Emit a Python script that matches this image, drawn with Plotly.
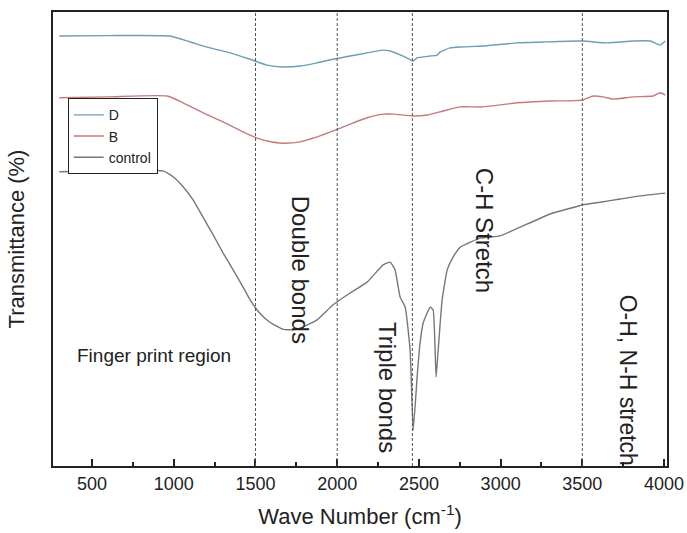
import plotly.graph_objects as go

# FTIR spectra (wavenumber in cm^-1, transmittance in arbitrary % units)
wn_d = [300, 600, 977, 1100, 1222, 1345, 1467, 1571, 1669, 1773, 1877, 1975,
        2079, 2183, 2281, 2324, 2403, 2465, 2489, 2569, 2611, 2630, 2691, 2752,
        2893, 3101, 3260, 3500, 3652, 3811, 3915, 3976, 4007]
t_d = [94.7, 94.8, 94.7, 93.4, 92.1, 91.0, 89.6, 88.3, 87.9, 88.1, 88.8, 89.6,
       90.3, 91.0, 91.6, 91.4, 90.3, 89.2, 89.9, 90.3, 90.5, 91.2, 92.1, 92.3,
       92.5, 93.2, 93.4, 93.6, 93.2, 93.6, 93.6, 92.7, 93.6]

wn_b = [300, 600, 959, 1057, 1179, 1302, 1424, 1510, 1571, 1669, 1773, 1877,
        1975, 2079, 2183, 2281, 2342, 2465, 2550, 2648, 2752, 2893, 3101, 3303,
        3500, 3566, 3627, 3688, 3811, 3933, 3976, 4007]
t_b = [81.1, 81.3, 81.5, 80.0, 77.8, 75.8, 73.6, 72.2, 71.6, 71.1, 71.4, 72.5,
       73.8, 75.3, 76.7, 77.5, 77.5, 77.1, 77.3, 78.2, 79.1, 79.1, 80.0, 80.4,
       80.6, 81.5, 81.3, 80.8, 81.3, 81.5, 82.2, 81.7]

wn_c = [300, 600, 935, 996, 1057, 1118, 1179, 1241, 1302, 1363, 1424, 1467,
        1528, 1590, 1669, 1730, 1790, 1877, 1975, 2079, 2183, 2281, 2324, 2354,
        2385, 2416, 2446, 2465, 2489, 2507, 2526, 2569, 2587, 2605, 2618, 2642,
        2673, 2709, 2752, 2875, 2997, 3119, 3303, 3500, 3609, 3731, 3854, 4007]
t_c = [64.8, 65.1, 65.0, 63.7, 61.5, 58.6, 54.8, 50.9, 46.9, 43.2, 39.4, 36.6,
       33.6, 31.6, 30.1, 30.0, 30.6, 32.2, 35.5, 38.1, 40.5, 44.3, 44.9, 43.2,
       37.2, 35.0, 25.6, 7.9, 19.6, 27.1, 31.5, 35.0, 34.4, 19.6, 25.6, 36.6,
       43.2, 46.0, 48.2, 50.2, 50.7, 52.6, 55.5, 57.5, 58.1, 58.8, 59.5, 60.1]

region_edges = [1500, 2000, 2460, 3500]
x_ticks = [500, 1000, 1500, 2000, 2500, 3000, 3500, 4000]

# (text, wavenumber, transmittance, font size)
labels_vertical = [
    ("Double bonds", 1773, 43.2, 24),
    ("Triple bonds", 2311, 17.4, 24),
    ("C-H Stretch", 2899, 52.0, 24),
    ("O-H, N-H stretch", 3780, 19.0, 23),
]
label_fingerprint = ("Finger print region", 880, 24.4, 19)

FONT = "Arial, Liberation Sans, sans-serif"
INK = "#222222"

fig = go.Figure()
fig.add_trace(go.Scatter(x=wn_d, y=t_d, name="D", mode="lines",
                         line=dict(color="#6a9fb6", width=1.4, shape="spline", smoothing=0.5)))
fig.add_trace(go.Scatter(x=wn_b, y=t_b, name="B", mode="lines",
                         line=dict(color="#c47b7b", width=1.4, shape="spline", smoothing=0.5)))
fig.add_trace(go.Scatter(x=wn_c, y=t_c, name="control", mode="lines",
                         line=dict(color="#777777", width=1.4, shape="spline", smoothing=0.4)))

for xe in region_edges:
    fig.add_shape(type="line", x0=xe, x1=xe, y0=0, y1=1, xref="x", yref="paper",
                  line=dict(color="#555555", width=1, dash="3px,2px"))

for text, xv, yv, fs in labels_vertical:
    fig.add_annotation(x=xv, y=yv, text=text, textangle=90, showarrow=False,
                       font=dict(family=FONT, size=fs, color=INK))
fig.add_annotation(x=label_fingerprint[1], y=label_fingerprint[2],
                   text=label_fingerprint[0], showarrow=False,
                   font=dict(family=FONT, size=label_fingerprint[3], color=INK))

fig.update_layout(
    width=687, height=533,
    margin=dict(l=53, r=20, t=12, b=67),
    paper_bgcolor="white", plot_bgcolor="white",
    font=dict(family=FONT, color=INK),
    showlegend=True,
    legend=dict(x=0.024, y=0.81, xanchor="left", yanchor="top",
                bgcolor="white", bordercolor=INK, borderwidth=1,
                font=dict(size=14, family=FONT), tracegroupgap=0),
    xaxis=dict(range=[261, 4018], tickvals=x_ticks, showgrid=False, zeroline=False,
               automargin=False,
               showline=True, linecolor=INK, linewidth=2, mirror=True,
               ticks="inside", ticklen=7, tickwidth=1.5, tickcolor=INK,
               minor=dict(dtick=250, ticks="inside", ticklen=4, tickcolor=INK),
               tickfont=dict(size=18, family=FONT, color=INK),
               title=dict(text="Wave Number (cm<sup>-1</sup>)", standoff=16,
                          font=dict(size=22, family=FONT, color=INK))),
    yaxis=dict(range=[0, 100], showticklabels=False, showgrid=False, zeroline=False,
               automargin=False,
               showline=True, linecolor=INK, linewidth=2, mirror=True, ticks="",
               title=dict(text="Transmittance (%)", standoff=20,
                          font=dict(size=22, family=FONT, color=INK))),
)

fig.write_html("out.html")
